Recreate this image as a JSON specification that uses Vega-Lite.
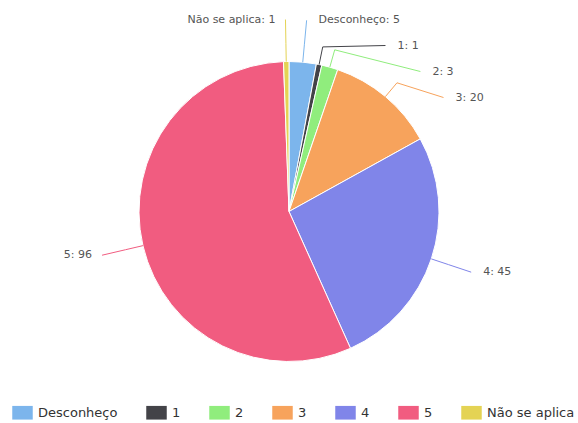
{
  "$schema": "https://vega.github.io/schema/vega-lite/v6.json",
  "width": 578,
  "height": 423,
  "padding": 0,
  "autosize": {"type": "none"},
  "background": "white",
  "config": {"view": {"stroke": null}, "font": "DejaVu Sans"},
  "data": {
    "values": [
      {"cat": "Desconheço", "value": 5},
      {"cat": "1", "value": 1},
      {"cat": "2", "value": 3},
      {"cat": "3", "value": 20},
      {"cat": "4", "value": 45},
      {"cat": "5", "value": 96},
      {"cat": "Não se aplica", "value": 1}
    ]
  },
  "transform": [
    {"window": [{"op": "row_number", "as": "idx"}]},
    {"window": [{"op": "sum", "field": "value", "as": "cum"}], "sort": [{"field": "idx"}], "frame": [null, 0]},
    {"joinaggregate": [{"op": "sum", "field": "value", "as": "total"}]},
    {"calculate": "2*PI*(datum.cum - datum.value/2)/datum.total", "as": "mid"},
    {"calculate": "sin(datum.mid) >= 0 ? 'R' : 'L'", "as": "side"},
    {"calculate": "192*cos(datum.mid)", "as": "natY"},
    {"window": [{"op": "rank", "as": "rk"}], "groupby": ["side"], "sort": [{"field": "natY", "order": "descending"}]},
    {"calculate": "min(datum.natY, 192 - 26*(datum.rk-1))", "as": "ly"},
    {"calculate": "(datum.side === 'R' ? 1 : -1)*sqrt(max(0, 192*192 - datum.ly*datum.ly))", "as": "lx"},
    {"calculate": "150*sin(datum.mid)", "as": "x0"},
    {"calculate": "150*cos(datum.mid)", "as": "y0"},
    {"calculate": "168*sin(datum.mid)", "as": "x1"},
    {"calculate": "168*cos(datum.mid)", "as": "y1"},
    {"calculate": "datum.cat + ': ' + datum.value", "as": "label"}
  ],
  "layer": [
    {
      "mark": {"type": "arc", "outerRadius": 150, "stroke": "white", "strokeWidth": 1},
      "encoding": {
        "theta": {"field": "value", "type": "quantitative", "stack": true},
        "order": {"field": "idx", "type": "quantitative"},
        "color": {
          "field": "cat",
          "type": "nominal",
          "sort": null,
          "scale": {
            "domain": ["Desconheço", "1", "2", "3", "4", "5", "Não se aplica"],
            "range": ["#7cb5ec", "#434348", "#90ed7d", "#f7a35c", "#8085e9", "#f15c80", "#e4d354"]
          },
          "legend": {
            "orient": "none",
            "legendX": 12,
            "legendY": 402,
            "direction": "horizontal",
            "columns": 7,
            "title": null,
            "symbolType": "M-1,-0.667L1,-0.667L1,0.667L-1,0.667Z",
            "symbolSize": 420,
            "symbolStrokeWidth": 0,
            "symbolOpacity": 1,
            "labelFontSize": 13,
            "labelColor": "#333333",
            "labelFont": "DejaVu Sans",
            "columnPadding": 28,
            "labelOffset": 5
          }
        }
      }
    },
    {
      "mark": {"type": "rule", "strokeWidth": 1},
      "encoding": {
        "x": {"field": "x0", "type": "quantitative", "scale": {"domain": [-289, 289], "nice": false, "zero": false}, "axis": null},
        "y": {"field": "y0", "type": "quantitative", "scale": {"domain": [-211.5, 211.5], "nice": false, "zero": false}, "axis": null},
        "x2": {"field": "x1"},
        "y2": {"field": "y1"},
        "color": {"field": "cat", "type": "nominal", "legend": null}
      }
    },
    {
      "mark": {"type": "rule", "strokeWidth": 1},
      "encoding": {
        "x": {"field": "x1", "type": "quantitative", "scale": {"domain": [-289, 289], "nice": false, "zero": false}, "axis": null},
        "y": {"field": "y1", "type": "quantitative", "scale": {"domain": [-211.5, 211.5], "nice": false, "zero": false}, "axis": null},
        "x2": {"field": "lx"},
        "y2": {"field": "ly"},
        "color": {"field": "cat", "type": "nominal", "legend": null}
      }
    },
    {
      "transform": [{"filter": "datum.side === 'R'"}],
      "mark": {"type": "text", "align": "left", "baseline": "middle", "dx": 12, "fontSize": 11, "fill": "#555555", "font": "DejaVu Sans"},
      "encoding": {
        "x": {"field": "lx", "type": "quantitative", "scale": {"domain": [-289, 289], "nice": false, "zero": false}, "axis": null},
        "y": {"field": "ly", "type": "quantitative", "scale": {"domain": [-211.5, 211.5], "nice": false, "zero": false}, "axis": null},
        "text": {"field": "label"}
      }
    },
    {
      "transform": [{"filter": "datum.side === 'L'"}],
      "mark": {"type": "text", "align": "right", "baseline": "middle", "dx": -10, "fontSize": 11, "fill": "#555555", "font": "DejaVu Sans"},
      "encoding": {
        "x": {"field": "lx", "type": "quantitative", "scale": {"domain": [-289, 289], "nice": false, "zero": false}, "axis": null},
        "y": {"field": "ly", "type": "quantitative", "scale": {"domain": [-211.5, 211.5], "nice": false, "zero": false}, "axis": null},
        "text": {"field": "label"}
      }
    }
  ]
}
